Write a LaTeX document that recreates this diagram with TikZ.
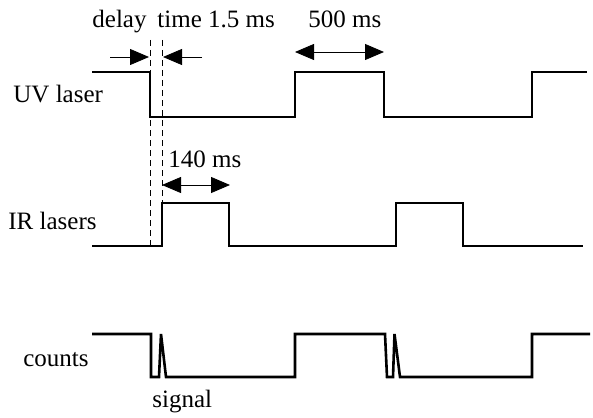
\documentclass[tikz,border=0pt]{standalone}
\usepackage{fontspec}
\setmainfont{Liberation Serif}
\usetikzlibrary{arrows.meta}

\begin{document}
\begin{tikzpicture}[
    x=0.5pt, y=-0.5pt,
    wave/.style={line width=1.3pt, line join=miter},
    guide/.style={line width=0.5pt, dash pattern=on 3pt off 2pt},
    dimarrow/.style={line width=0.4pt, {Triangle[length=9.5pt,width=8pt]}-{Triangle[length=9.5pt,width=8pt]}},
    halfarrow/.style={line width=0.4pt, -{Triangle[length=9.5pt,width=8pt]}},
    label/.style={inner sep=0pt, anchor=base west, font=\fontsize{12.5}{15}\selectfont}
]
    \useasboundingbox (0,0) rectangle (593,417);

    % row labels
    \node[label] (uv) at (13,103) {UV laser};
    \node[label] (ir) at (8,229) {IR lasers};
    \node[label] (cnt) at (23,366) {counts};
    \node[label] (sig) at (152,407) {signal};

    % timing labels
    \node[label] (delay) at (92,28) {delay};
    \node[label] (dtime) at (157,28) {time 1.5 ms};
    \node[label] (long) at (308,28) {500 ms};
    \node[label] (short) at (168,167) {140 ms};

    % waveforms
    \draw[wave] (92,72) -- (150,72) -- (150,117) -- (295,117) -- (295,72)
        -- (384,72) -- (384,117) -- (532,117) -- (532,72) -- (587,72);
    \draw[wave] (92,246) -- (162,246) -- (162,203) -- (229,203) -- (229,246)
        -- (396,246) -- (396,203) -- (463,203) -- (463,246) -- (583,246);
    \draw[wave] (92,334) -- (151,334) -- (151,377) -- (159,377) -- (161,334)
        -- (166,377) -- (295,377) -- (295,334) -- (385,334) -- (387,377)
        -- (393,377) -- (394.5,334) -- (400,377) -- (532,377) -- (532,334) -- (590,334);

    % dashed guides
    \coordinate (ga) at (150,40);
    \coordinate (gb) at (150,246);
    \coordinate (gc) at (162,40);
    \coordinate (gd) at (162,203);
    \draw[guide] (ga) -- (gb);
    \draw[guide] (gc) -- (gd);

    % arrows
    \coordinate (d1) at (110,57);
    \coordinate (d2) at (149,57);
    \coordinate (d3) at (202,57);
    \coordinate (d4) at (163,57);
    \draw[halfarrow] (d1) -- (d2);
    \draw[halfarrow] (d3) -- (d4);
    \coordinate (l1) at (295,52);
    \coordinate (l2) at (384,52);
    \draw[dimarrow] (l1) -- (l2);
    \coordinate (s1) at (162,185);
    \coordinate (s2) at (230,185);
    \draw[dimarrow] (s1) -- (s2);
\end{tikzpicture}
\end{document}
